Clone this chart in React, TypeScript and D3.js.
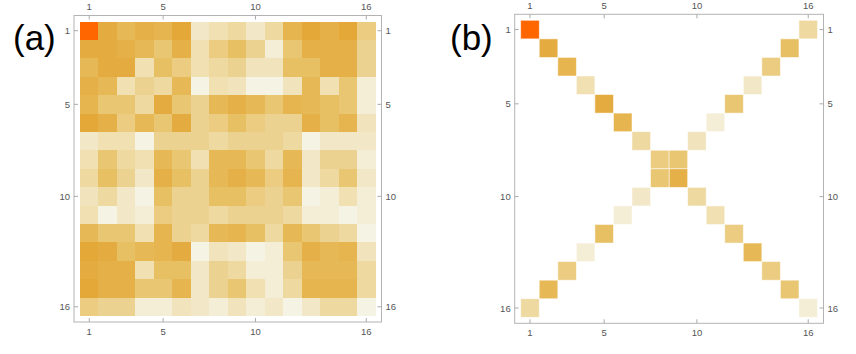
import * as d3 from "d3";

const idx = d3.range(1, 17);
const tickValues = [1, 5, 10, 16];

// colour levels: 0 = palest cream, 7 = deep gold, 10 = the orange peak
const levelDomain = [0, 1, 2, 3, 4, 5, 6, 7, 10];
const levelColors = ["#f5f3e3", "#f2e8c8", "#f0e0b2", "#ecd290", "#e9c672", "#e6b956", "#e5b048", "#e3a838", "#ff6600"];

const matrixA = [
  [10, 6.5, 5, 6, 5.5, 7, 1, 2, 2.5, 1, 2.5, 5.5, 7, 6, 7, 3.5],
  [6.5, 6.5, 6, 5, 4, 6, 2, 3.5, 4.5, 3, 0.5, 4, 6, 6, 6, 3],
  [5, 6.5, 6.5, 2, 4.5, 3.5, 2, 2.5, 3, 1.5, 1.5, 4.5, 4.5, 6, 6, 3],
  [6, 5, 2, 3, 2.5, 5, 0, 2, 1.5, 0, 0, 1.5, 5, 2, 4, 0.5],
  [5.5, 4, 4, 2.5, 6.5, 4, 3, 5, 6, 5, 4, 5.5, 5, 4.5, 4, 0.5],
  [7, 6, 3.5, 5, 4, 6.5, 3, 3.5, 4.5, 3.5, 3, 3, 6, 4.5, 5.5, 1.5],
  [1, 2, 2, 0, 3, 3, 3, 2.5, 3, 3, 3, 2.5, 0, 1, 1, 1],
  [2, 4, 2.5, 2, 5, 4, 2, 5, 5, 4, 2.5, 5, 1, 3, 3, 0.5],
  [2.5, 4.5, 3, 1, 6, 4.5, 3, 5, 6, 5, 3.5, 5.5, 1, 2.5, 4, 1],
  [1.5, 2.5, 1, 0, 4.5, 3, 3, 4.5, 4.5, 3.5, 3, 4, 0, 0.5, 2, 0.5],
  [2, 0, 1, 0.5, 3.5, 3, 3, 2.5, 3, 3, 3, 2.5, 0.5, 0.5, 0, 0.5],
  [5, 4, 4, 2, 5.5, 3, 2.5, 5, 5.5, 4.5, 2.5, 5, 4, 3, 2.5, 0],
  [7, 6.5, 4.5, 5, 5.5, 6.5, 0, 1.5, 1, 0, 0.5, 4, 6, 5, 5.5, 1.5],
  [6.5, 6, 6, 2, 4.5, 4.5, 1, 3, 2.5, 0.5, 0.5, 3, 5, 5, 5, 2.5],
  [7, 6, 6, 4, 4, 5.5, 1, 3, 4, 2, 0.5, 2.5, 5.5, 5.5, 5.5, 2.5],
  [3.5, 3, 3, 0.5, 0.5, 1.5, 1, 0.5, 1.5, 0.5, 1, 0, 1, 2.5, 2.5, 0],
];

// panel (b): only the diagonal (i,i) and anti-diagonal (i,17-i) are non-zero
const diagB = [10, 6.5, 5.5, 2, 6.5, 5.5, 2.5, 3.5, 6, 2.5, 2, 3.5, 5, 3.5, 4, 0.5];
const antiDiagB = [2.5, 4.5, 3.5, 1, 4, 0.5, 1.5, 4, 4, 1, 0.5, 4.5, 0.5, 3.5, 5, 2.5];

const color = d3.scaleLinear<string>().domain(levelDomain).range(levelColors).interpolate(d3.interpolateRgb);

type Cell = { r: number; c: number; v: number };

const cellsA: Cell[] = matrixA.flatMap((row, i) => row.map((v, j) => ({ r: i + 1, c: j + 1, v })));
const cellsB: Cell[] = idx.flatMap((i) => {
  const out = [{ r: i, c: i, v: diagB[i - 1] }];
  if (17 - i !== i) out.push({ r: i, c: 17 - i, v: antiDiagB[i - 1] });
  return out;
});

function Panel({ cells, x0, x1, y0, y1, label, labelX, stroke }: {
  cells: Cell[]; x0: number; x1: number; y0: number; y1: number; label: string; labelX: number; stroke?: boolean;
}) {
  const x = d3.scaleBand<number>().domain(idx).range([x0, x1]);
  const y = d3.scaleBand<number>().domain(idx).range([y0, y1]);
  const pad = 6;
  const fl = x0 - pad, fr = x1 + pad, ft = y0 - pad, fb = y1 + pad;
  const bw = x.bandwidth(), bh = y.bandwidth();
  const font = { fontFamily: "Liberation Sans, Arial, sans-serif", fontSize: 9.5, fill: "#555" };
  const tk = 4;
  return (
    <g>
      <text x={labelX} y={50} fontFamily="Liberation Sans, Arial, sans-serif" fontSize={35} fill="#000">{label}</text>
      {cells.map((d) => (
        <rect key={`${d.r}-${d.c}`} x={x(d.c)} y={y(d.r)} width={bw} height={bh} fill={color(d.v)}
          stroke={stroke ? "#fff" : "none"} strokeOpacity={0.6} strokeWidth={0.8} shapeRendering={stroke ? "auto" : "crispEdges"} />
      ))}
      <rect x={fl} y={ft} width={fr - fl} height={fb - ft} fill="none" stroke="#b3b3b3" strokeWidth={1} />
      {tickValues.map((t) => {
        const cx = x(t)! + bw / 2;
        const cy = y(t)! + bh / 2;
        return (
          <g key={t} stroke="#aaa" strokeWidth={1}>
            <line x1={cx} x2={cx} y1={ft} y2={ft + tk} />
            <line x1={cx} x2={cx} y1={fb} y2={fb - tk} />
            <line x1={fl} x2={fl + tk} y1={cy} y2={cy} />
            <line x1={fr} x2={fr - tk} y1={cy} y2={cy} />
            <text x={cx} y={ft - 5.5} textAnchor="middle" stroke="none" {...font}>{t}</text>
            <text x={cx} y={fb + 12.5} textAnchor="middle" stroke="none" {...font}>{t}</text>
            <text x={fl - 4} y={cy + 3.5} textAnchor="end" stroke="none" {...font}>{t}</text>
            <text x={fr + 4} y={cy + 3.5} textAnchor="start" stroke="none" {...font}>{t}</text>
          </g>
        );
      })}
    </g>
  );
}

export default function App() {
  return (
    <svg width={856} height={354} style={{ position: "absolute", left: 0, top: 0, background: "#fff" }}>
      <Panel cells={cellsA} x0={80} x1={375.5} y0={21.5} y1={316} label="(a)" labelX={13} />
      <Panel cells={cellsB} x0={520.7} x1={817.5} y0={20.3} y1={317.3} label="(b)" labelX={450} stroke />
    </svg>
  );
}
